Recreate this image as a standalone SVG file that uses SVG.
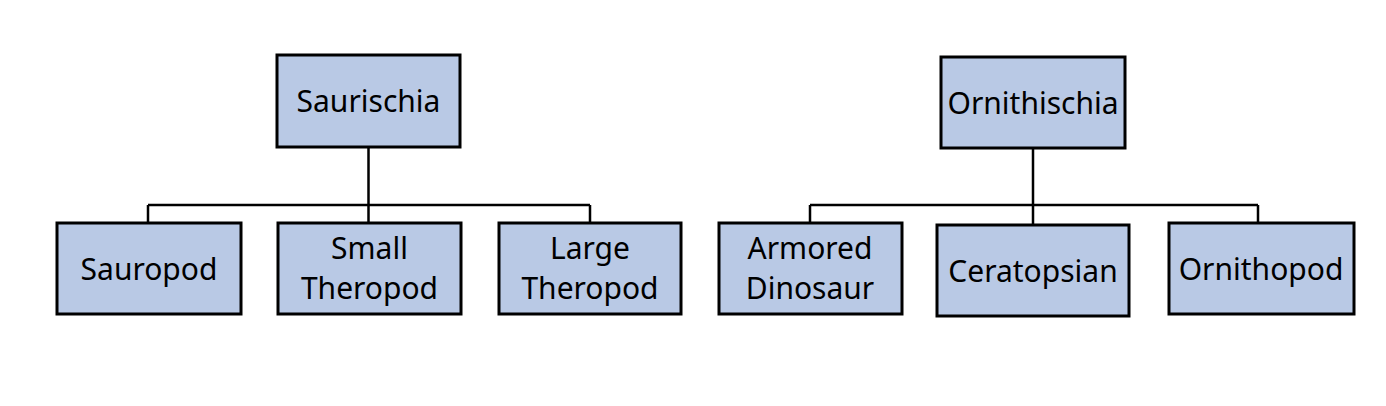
<svg xmlns="http://www.w3.org/2000/svg" width="1386" height="406" viewBox="0 0 1386 406">
<style>
.box{fill:#B9C9E5;stroke:#000;stroke-width:3}
.lbl{font-family:"Noto Sans","Liberation Sans",sans-serif;font-size:30px;fill:#000;text-anchor:middle}
.con{fill:none;stroke:#000;stroke-width:2.5}
</style>
<rect width="1386" height="406" fill="#fff"/>
<g id="connectors">
<path class="con" d="M368.5 148 V205 M148 205 H590 M148 205 V223 M368.5 205 V223 M590 205 V223"/>
<path class="con" d="M1033 148 V205 M810 205 H1258 M810 205 V223 M1033 205 V225 M1258 205 V223"/>
</g>
<g id="saurischia"><rect class="box" x="277" y="55" width="183" height="92"/><text class="lbl" x="368.5" y="112">Saurischia</text></g>
<g id="ornithischia"><rect class="box" x="941" y="57" width="184" height="91"/><text class="lbl" x="1033" y="114">Ornithischia</text></g>
<g id="sauropod"><rect class="box" x="57" y="223" width="184" height="91"/><text class="lbl" x="149" y="280">Sauropod</text></g>
<g id="small-theropod"><rect class="box" x="278" y="223" width="183" height="91"/><text class="lbl" x="369.5" y="259">Small</text><text class="lbl" x="369.5" y="299">Theropod</text></g>
<g id="large-theropod"><rect class="box" x="499" y="223" width="182" height="91"/><text class="lbl" x="590" y="259">Large</text><text class="lbl" x="590" y="299">Theropod</text></g>
<g id="armored-dinosaur"><rect class="box" x="719" y="223" width="183" height="91"/><text class="lbl" x="810" y="259">Armored</text><text class="lbl" x="810" y="299">Dinosaur</text></g>
<g id="ceratopsian"><rect class="box" x="937" y="225" width="192" height="91"/><text class="lbl" x="1033" y="282">Ceratopsian</text></g>
<g id="ornithopod"><rect class="box" x="1169" y="223" width="185" height="91"/><text class="lbl" x="1261" y="280">Ornithopod</text></g>
</svg>
